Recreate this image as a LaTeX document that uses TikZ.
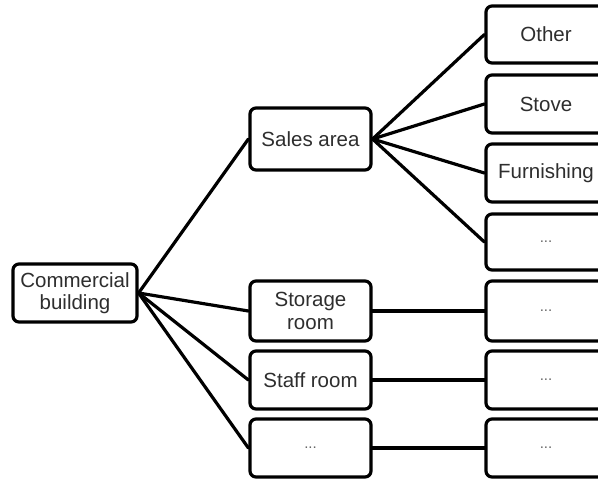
\documentclass[tikz,border=0pt]{standalone}
\usepackage{fontspec}
\setmainfont{Liberation Sans}
\definecolor{txt}{HTML}{2e2e2e}
\definecolor{dotc}{HTML}{666666}
\begin{document}
\begin{tikzpicture}[x=1pt,y=-1pt,
  box/.style={draw=black, line width=3.2pt, rounded corners=6pt, fill=white,
    text=txt, font=\fontsize{20.5}{22.5}\selectfont, align=center, inner sep=0pt},
  midbox/.style={box, minimum width=121pt},
  rbox/.style={box, minimum width=120pt},
  dots/.style={font=\fontsize{15}{17}\selectfont, text=dotc},
  link/.style={line width=3.2pt, line cap=round}]
\useasboundingbox (0,0) rectangle (598,480);
\clip (0,0) rectangle (598,480);
% root
\node[box, minimum width=124pt, minimum height=58pt] (root) at (75,293) {Commercial\\building};
% middle column
\node[midbox, minimum height=62pt] (sales) at (310.5,139) {Sales area};
\node[midbox, minimum height=60pt] (storage) at (310.5,311) {Storage\\room};
\node[midbox, minimum height=58pt] (staff) at (310.5,380) {Staff room};
\node[midbox, minimum height=58pt, dots] (mdots) at (310.5,448) {...};
% right column
\node[rbox, minimum height=57pt] (other) at (546,34.5) {Other};
\node[rbox, minimum height=58pt] (stove) at (546,104) {Stove};
\node[rbox, minimum height=58pt] (furn) at (546,173) {Furnishing};
\node[rbox, minimum height=56pt, dots] (rd1) at (546,242) {...};
\node[rbox, minimum height=60pt, dots] (rd2) at (546,311) {...};
\node[rbox, minimum height=58pt, dots] (rd3) at (546,380) {...};
\node[rbox, minimum height=58pt, dots] (rd4) at (546,448) {...};
% connectors
\foreach \t in {sales,storage,staff,mdots}
  \draw[link] (root.east) -- (\t.west);
\foreach \t in {other,stove,furn,rd1}
  \draw[link] (sales.east) -- (\t.west);
\draw[link] (storage.east) -- (rd2.west);
\draw[link] (staff.east) -- (rd3.west);
\draw[link] (mdots.east) -- (rd4.west);
\end{tikzpicture}
\end{document}
